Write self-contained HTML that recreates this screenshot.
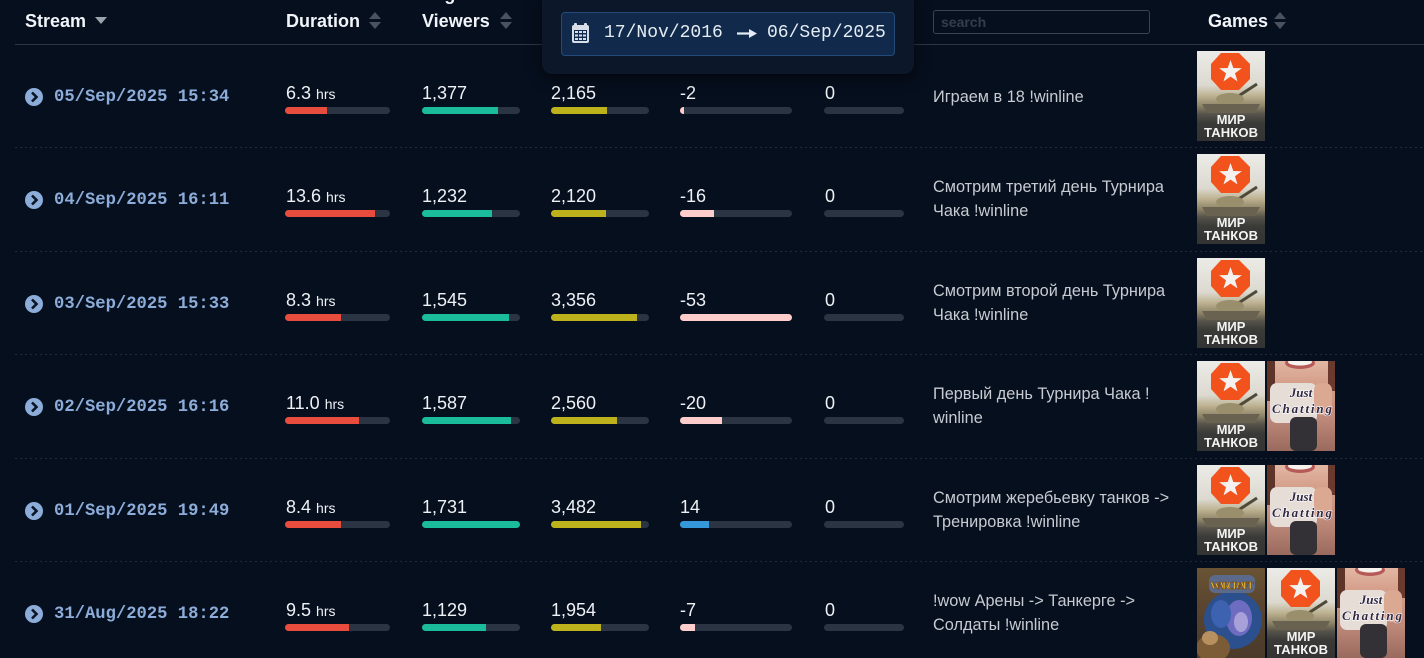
<!DOCTYPE html>
<html><head><meta charset="utf-8">
<style>
*{margin:0;padding:0;box-sizing:border-box}
html,body{width:1424px;height:658px;overflow:hidden;background:#060f1e}
body{position:relative;font-family:"Liberation Sans","DejaVu Sans",sans-serif}
.h{position:absolute;top:11px;font-weight:bold;font-size:18px;line-height:20px;color:#f1f4f8;white-space:nowrap}
.hl{position:absolute;left:15px;top:44px;width:1409px;height:1px;background:#2c3644}
.sep{position:absolute;left:15px;width:1409px;height:1px;background-image:repeating-linear-gradient(to right,#1f2b3a 0 2px,transparent 2px 5px)}
.row{position:absolute;left:0;width:1424px;height:103px}
.ic{position:absolute;left:25px;top:44px}
.dt{position:absolute;left:54px;top:44px;font-family:"Liberation Mono",monospace;font-weight:bold;font-size:17.2px;line-height:20px;color:#8cacd9;white-space:nowrap}
.n{position:absolute;top:39px;font-size:18px;line-height:20px;color:#eef1f5;white-space:nowrap}
.n small{font-size:14px}
.tr{position:absolute;top:63px;height:7px;border-radius:4px;background:#2b3442;overflow:hidden}
.tr i{display:block;height:100%}
.t{position:absolute;left:933px;font-size:16.3px;color:#c7cbd1;white-space:nowrap}
.t1{top:43px;line-height:20px}
.t2{top:28px;line-height:24px}
.gm{position:absolute;left:1197px;top:7px;display:flex;gap:2px}
.g{width:68px;height:90px;position:relative;overflow:hidden}
.g svg{position:absolute;left:0;top:0}
.tank{background:linear-gradient(to bottom,#ecebe7 0%,#dcd9d0 38%,#bcb190 50%,#8e8467 61%,#55534a 70%,#3a3a38 80%,#333333 100%)}
.chat{background:linear-gradient(to bottom,#e3b7a4 0%,#d49e8a 25%,#c18c7c 60%,#9a6a5e 100%)}
.wow{background:linear-gradient(to bottom,#6a5434 0%,#5a4530 40%,#4a3a2a 100%)}
.popup{position:absolute;left:542px;top:-10px;width:372px;height:84px;background:#0c1729;border-radius:10px;box-shadow:0 4px 14px rgba(0,0,0,.55)}
.range{position:absolute;left:561px;top:12px;width:334px;height:44px;background:#112a4b;border:1px solid #234a78;border-radius:4px}
.rt{position:absolute;top:23px;font-family:"Liberation Mono",monospace;font-size:18px;line-height:20px;color:#e6ecf4;white-space:nowrap}
.search{position:absolute;left:933px;top:10px;width:217px;height:24px;border:1px solid #394351;border-radius:3px}
.search span{position:absolute;left:7px;top:3px;font-weight:bold;font-size:14px;line-height:16px;color:#343d4a}
</style></head><body>

<!-- header -->
<div class="h" style="left:25px">Stream</div>
<svg style="position:absolute;left:95px;top:17px" width="12" height="8"><polygon points="0,0 12,0 6,7" fill="#9aa2ad"/></svg>
<div class="h" style="left:286px">Duration</div>
<svg style="position:absolute;left:369px;top:12px" width="12" height="17"><polygon points="6,0 12,7 0,7" fill="#4a5260"/><polygon points="0,10 12,10 6,17" fill="#4a5260"/></svg>
<div class="h" style="left:422px;top:-16px">Avg</div>
<div class="h" style="left:422px">Viewers</div>
<svg style="position:absolute;left:500px;top:12px" width="12" height="17"><polygon points="6,0 12,7 0,7" fill="#4a5260"/><polygon points="0,10 12,10 6,17" fill="#4a5260"/></svg>
<div class="search"><span>search</span></div>
<div class="h" style="left:1208px">Games</div>
<svg style="position:absolute;left:1274px;top:12px" width="12" height="17"><polygon points="6,0 12,7 0,7" fill="#4a5260"/><polygon points="0,10 12,10 6,17" fill="#4a5260"/></svg>
<div class="hl"></div>

<!-- row 1 -->
<div class="row" style="top:44px">
<svg class="ic" width="18" height="18"><circle cx="9" cy="9" r="9" fill="#8cacd9"/><polyline points="7,4.5 11.5,9 7,13.5" fill="none" stroke="#0a1424" stroke-width="2.6"/></svg>
<div class="dt">05/Sep/2025 15:34</div>
<div class="n" style="left:286px">6.3 <small>hrs</small></div>
<div class="tr" style="left:285px;width:105px"><i style="width:42px;background:#e74c3c"></i></div>
<div class="n" style="left:422px">1,377</div>
<div class="tr" style="left:422px;width:98px"><i style="width:76px;background:#1abc9c"></i></div>
<div class="n" style="left:551px">2,165</div>
<div class="tr" style="left:551px;width:98px"><i style="width:56px;background:#bdb21c"></i></div>
<div class="n" style="left:680px">-2</div>
<div class="tr" style="left:680px;width:112px"><i style="width:4px;background:#ffcccc"></i></div>
<div class="n" style="left:825px">0</div>
<div class="tr" style="left:824px;width:80px"></div>
<div class="t t1">Играем в 18 !winline</div>
<div class="gm">
<div class="g tank"><svg width="68" height="90"><polygon points="24,2 42,2 53,13 53,28 42,39 24,39 14,28 14,13" fill="#f2521c"/><polygon points="33.5,9 36.3,17 44.8,17.2 38,22.3 40.5,30.4 33.5,25.6 26.5,30.4 29,22.3 22.2,17.2 30.7,17" fill="#f4f1ee"/><line x1="40" y1="46" x2="60" y2="33" stroke="#4e4a3a" stroke-width="3"/><ellipse cx="33" cy="48" rx="14" ry="6" fill="#9a8f6c"/><polygon points="5,53 63,53 58,62 10,62" fill="#6a6250"/><text x="34" y="73" text-anchor="middle" font-family="Liberation Sans,DejaVu Sans,sans-serif" font-weight="bold" font-size="13" fill="#f4f4f4">МИР</text><text x="34" y="86" text-anchor="middle" font-family="Liberation Sans,DejaVu Sans,sans-serif" font-weight="bold" font-size="13" textLength="54" fill="#f4f4f4">ТАНКОВ</text></svg></div>
</div>
</div>

<div class="sep" style="top:147px"></div>
<!-- row 2 -->
<div class="row" style="top:147.4px">
<svg class="ic" width="18" height="18"><circle cx="9" cy="9" r="9" fill="#8cacd9"/><polyline points="7,4.5 11.5,9 7,13.5" fill="none" stroke="#0a1424" stroke-width="2.6"/></svg>
<div class="dt">04/Sep/2025 16:11</div>
<div class="n" style="left:286px">13.6 <small>hrs</small></div>
<div class="tr" style="left:285px;width:105px"><i style="width:90px;background:#e74c3c"></i></div>
<div class="n" style="left:422px">1,232</div>
<div class="tr" style="left:422px;width:98px"><i style="width:70px;background:#1abc9c"></i></div>
<div class="n" style="left:551px">2,120</div>
<div class="tr" style="left:551px;width:98px"><i style="width:55px;background:#bdb21c"></i></div>
<div class="n" style="left:680px">-16</div>
<div class="tr" style="left:680px;width:112px"><i style="width:34px;background:#ffcccc"></i></div>
<div class="n" style="left:825px">0</div>
<div class="tr" style="left:824px;width:80px"></div>
<div class="t t2">Смотрим третий день Турнира<br>Чака !winline</div>
<div class="gm">
<div class="g tank"><svg width="68" height="90"><polygon points="24,2 42,2 53,13 53,28 42,39 24,39 14,28 14,13" fill="#f2521c"/><polygon points="33.5,9 36.3,17 44.8,17.2 38,22.3 40.5,30.4 33.5,25.6 26.5,30.4 29,22.3 22.2,17.2 30.7,17" fill="#f4f1ee"/><line x1="40" y1="46" x2="60" y2="33" stroke="#4e4a3a" stroke-width="3"/><ellipse cx="33" cy="48" rx="14" ry="6" fill="#9a8f6c"/><polygon points="5,53 63,53 58,62 10,62" fill="#6a6250"/><text x="34" y="73" text-anchor="middle" font-family="Liberation Sans,DejaVu Sans,sans-serif" font-weight="bold" font-size="13" fill="#f4f4f4">МИР</text><text x="34" y="86" text-anchor="middle" font-family="Liberation Sans,DejaVu Sans,sans-serif" font-weight="bold" font-size="13" textLength="54" fill="#f4f4f4">ТАНКОВ</text></svg></div>
</div>
</div>

<div class="sep" style="top:251px"></div>
<!-- row 3 -->
<div class="row" style="top:250.8px">
<svg class="ic" width="18" height="18"><circle cx="9" cy="9" r="9" fill="#8cacd9"/><polyline points="7,4.5 11.5,9 7,13.5" fill="none" stroke="#0a1424" stroke-width="2.6"/></svg>
<div class="dt">03/Sep/2025 15:33</div>
<div class="n" style="left:286px">8.3 <small>hrs</small></div>
<div class="tr" style="left:285px;width:105px"><i style="width:56px;background:#e74c3c"></i></div>
<div class="n" style="left:422px">1,545</div>
<div class="tr" style="left:422px;width:98px"><i style="width:87px;background:#1abc9c"></i></div>
<div class="n" style="left:551px">3,356</div>
<div class="tr" style="left:551px;width:98px"><i style="width:86px;background:#bdb21c"></i></div>
<div class="n" style="left:680px">-53</div>
<div class="tr" style="left:680px;width:112px"><i style="width:112px;background:#ffcccc"></i></div>
<div class="n" style="left:825px">0</div>
<div class="tr" style="left:824px;width:80px"></div>
<div class="t t2">Смотрим второй день Турнира<br>Чака !winline</div>
<div class="gm">
<div class="g tank"><svg width="68" height="90"><polygon points="24,2 42,2 53,13 53,28 42,39 24,39 14,28 14,13" fill="#f2521c"/><polygon points="33.5,9 36.3,17 44.8,17.2 38,22.3 40.5,30.4 33.5,25.6 26.5,30.4 29,22.3 22.2,17.2 30.7,17" fill="#f4f1ee"/><line x1="40" y1="46" x2="60" y2="33" stroke="#4e4a3a" stroke-width="3"/><ellipse cx="33" cy="48" rx="14" ry="6" fill="#9a8f6c"/><polygon points="5,53 63,53 58,62 10,62" fill="#6a6250"/><text x="34" y="73" text-anchor="middle" font-family="Liberation Sans,DejaVu Sans,sans-serif" font-weight="bold" font-size="13" fill="#f4f4f4">МИР</text><text x="34" y="86" text-anchor="middle" font-family="Liberation Sans,DejaVu Sans,sans-serif" font-weight="bold" font-size="13" textLength="54" fill="#f4f4f4">ТАНКОВ</text></svg></div>
</div>
</div>

<div class="sep" style="top:354px"></div>
<!-- row 4 -->
<div class="row" style="top:354.2px">
<svg class="ic" width="18" height="18"><circle cx="9" cy="9" r="9" fill="#8cacd9"/><polyline points="7,4.5 11.5,9 7,13.5" fill="none" stroke="#0a1424" stroke-width="2.6"/></svg>
<div class="dt">02/Sep/2025 16:16</div>
<div class="n" style="left:286px">11.0 <small>hrs</small></div>
<div class="tr" style="left:285px;width:105px"><i style="width:74px;background:#e74c3c"></i></div>
<div class="n" style="left:422px">1,587</div>
<div class="tr" style="left:422px;width:98px"><i style="width:89px;background:#1abc9c"></i></div>
<div class="n" style="left:551px">2,560</div>
<div class="tr" style="left:551px;width:98px"><i style="width:66px;background:#bdb21c"></i></div>
<div class="n" style="left:680px">-20</div>
<div class="tr" style="left:680px;width:112px"><i style="width:42px;background:#ffcccc"></i></div>
<div class="n" style="left:825px">0</div>
<div class="tr" style="left:824px;width:80px"></div>
<div class="t t2">Первый день Турнира Чака !<br>winline</div>
<div class="gm">
<div class="g tank"><svg width="68" height="90"><polygon points="24,2 42,2 53,13 53,28 42,39 24,39 14,28 14,13" fill="#f2521c"/><polygon points="33.5,9 36.3,17 44.8,17.2 38,22.3 40.5,30.4 33.5,25.6 26.5,30.4 29,22.3 22.2,17.2 30.7,17" fill="#f4f1ee"/><line x1="40" y1="46" x2="60" y2="33" stroke="#4e4a3a" stroke-width="3"/><ellipse cx="33" cy="48" rx="14" ry="6" fill="#9a8f6c"/><polygon points="5,53 63,53 58,62 10,62" fill="#6a6250"/><text x="34" y="73" text-anchor="middle" font-family="Liberation Sans,DejaVu Sans,sans-serif" font-weight="bold" font-size="13" fill="#f4f4f4">МИР</text><text x="34" y="86" text-anchor="middle" font-family="Liberation Sans,DejaVu Sans,sans-serif" font-weight="bold" font-size="13" textLength="54" fill="#f4f4f4">ТАНКОВ</text></svg></div>
<div class="g chat"><svg width="68" height="90"><rect x="0" y="0" width="8" height="40" fill="#5e3328"/><rect x="61" y="0" width="7" height="30" fill="#6a3a2e"/><ellipse cx="33" cy="2" rx="15" ry="6" fill="#b65a58"/><ellipse cx="33" cy="1" rx="12" ry="3.5" fill="#f6f2ee"/><rect x="3" y="22" width="47" height="40" rx="7" fill="#e6ddd6"/><rect x="47" y="22" width="18" height="32" rx="7" fill="#dba892"/><text x="34" y="36" text-anchor="middle" font-family="Liberation Serif,serif" font-style="italic" font-weight="bold" font-size="13" fill="#2f2642" stroke="#ffffff" stroke-width="1.2" paint-order="stroke">Just</text><text x="35" y="52" text-anchor="middle" font-family="Liberation Serif,serif" font-style="italic" font-weight="bold" font-size="13" textLength="60" fill="#2f2642" stroke="#ffffff" stroke-width="1.2" paint-order="stroke">Chatting</text><rect x="23" y="56" width="27" height="34" rx="6" fill="#333136"/></svg></div>
</div>
</div>

<div class="sep" style="top:458px"></div>
<!-- row 5 -->
<div class="row" style="top:457.6px">
<svg class="ic" width="18" height="18"><circle cx="9" cy="9" r="9" fill="#8cacd9"/><polyline points="7,4.5 11.5,9 7,13.5" fill="none" stroke="#0a1424" stroke-width="2.6"/></svg>
<div class="dt">01/Sep/2025 19:49</div>
<div class="n" style="left:286px">8.4 <small>hrs</small></div>
<div class="tr" style="left:285px;width:105px"><i style="width:56px;background:#e74c3c"></i></div>
<div class="n" style="left:422px">1,731</div>
<div class="tr" style="left:422px;width:98px"><i style="width:98px;background:#1abc9c"></i></div>
<div class="n" style="left:551px">3,482</div>
<div class="tr" style="left:551px;width:98px"><i style="width:90px;background:#bdb21c"></i></div>
<div class="n" style="left:680px">14</div>
<div class="tr" style="left:680px;width:112px"><i style="width:29px;background:#3498db"></i></div>
<div class="n" style="left:825px">0</div>
<div class="tr" style="left:824px;width:80px"></div>
<div class="t t2">Смотрим жеребьевку танков -&gt;<br>Тренировка !winline</div>
<div class="gm">
<div class="g tank"><svg width="68" height="90"><polygon points="24,2 42,2 53,13 53,28 42,39 24,39 14,28 14,13" fill="#f2521c"/><polygon points="33.5,9 36.3,17 44.8,17.2 38,22.3 40.5,30.4 33.5,25.6 26.5,30.4 29,22.3 22.2,17.2 30.7,17" fill="#f4f1ee"/><line x1="40" y1="46" x2="60" y2="33" stroke="#4e4a3a" stroke-width="3"/><ellipse cx="33" cy="48" rx="14" ry="6" fill="#9a8f6c"/><polygon points="5,53 63,53 58,62 10,62" fill="#6a6250"/><text x="34" y="73" text-anchor="middle" font-family="Liberation Sans,DejaVu Sans,sans-serif" font-weight="bold" font-size="13" fill="#f4f4f4">МИР</text><text x="34" y="86" text-anchor="middle" font-family="Liberation Sans,DejaVu Sans,sans-serif" font-weight="bold" font-size="13" textLength="54" fill="#f4f4f4">ТАНКОВ</text></svg></div>
<div class="g chat"><svg width="68" height="90"><rect x="0" y="0" width="8" height="40" fill="#5e3328"/><rect x="61" y="0" width="7" height="30" fill="#6a3a2e"/><ellipse cx="33" cy="2" rx="15" ry="6" fill="#b65a58"/><ellipse cx="33" cy="1" rx="12" ry="3.5" fill="#f6f2ee"/><rect x="3" y="22" width="47" height="40" rx="7" fill="#e6ddd6"/><rect x="47" y="22" width="18" height="32" rx="7" fill="#dba892"/><text x="34" y="36" text-anchor="middle" font-family="Liberation Serif,serif" font-style="italic" font-weight="bold" font-size="13" fill="#2f2642" stroke="#ffffff" stroke-width="1.2" paint-order="stroke">Just</text><text x="35" y="52" text-anchor="middle" font-family="Liberation Serif,serif" font-style="italic" font-weight="bold" font-size="13" textLength="60" fill="#2f2642" stroke="#ffffff" stroke-width="1.2" paint-order="stroke">Chatting</text><rect x="23" y="56" width="27" height="34" rx="6" fill="#333136"/></svg></div>
</div>
</div>

<div class="sep" style="top:561px"></div>
<!-- row 6 -->
<div class="row" style="top:561px">
<svg class="ic" width="18" height="18"><circle cx="9" cy="9" r="9" fill="#8cacd9"/><polyline points="7,4.5 11.5,9 7,13.5" fill="none" stroke="#0a1424" stroke-width="2.6"/></svg>
<div class="dt">31/Aug/2025 18:22</div>
<div class="n" style="left:286px">9.5 <small>hrs</small></div>
<div class="tr" style="left:285px;width:105px"><i style="width:64px;background:#e74c3c"></i></div>
<div class="n" style="left:422px">1,129</div>
<div class="tr" style="left:422px;width:98px"><i style="width:64px;background:#1abc9c"></i></div>
<div class="n" style="left:551px">1,954</div>
<div class="tr" style="left:551px;width:98px"><i style="width:50px;background:#bdb21c"></i></div>
<div class="n" style="left:680px">-7</div>
<div class="tr" style="left:680px;width:112px"><i style="width:15px;background:#ffcccc"></i></div>
<div class="n" style="left:825px">0</div>
<div class="tr" style="left:824px;width:80px"></div>
<div class="t t2">!wow Арены -&gt; Танкерге -&gt;<br>Солдаты !winline</div>
<div class="gm">
<div class="g wow"><svg width="68" height="90"><circle cx="36" cy="52" r="29" fill="#2c4f8e"/><ellipse cx="42" cy="50" rx="13" ry="18" fill="#6e6cc0"/><ellipse cx="44" cy="54" rx="7" ry="10" fill="#a8a0d8"/><ellipse cx="24" cy="46" rx="10" ry="14" fill="#3d62b0"/><rect x="12" y="7" width="46" height="18" rx="6" fill="#5b6a8a"/><text x="35" y="21" text-anchor="middle" font-family="Liberation Serif,serif" font-weight="bold" font-size="11" textLength="44" fill="#e8bf3c" stroke="#7a4a18" stroke-width="0.6">WARCRAFT</text><ellipse cx="16" cy="80" rx="17" ry="14" fill="#7c5c36"/><ellipse cx="13" cy="70" rx="8" ry="7" fill="#b89060"/></svg></div>
<div class="g tank"><svg width="68" height="90"><polygon points="24,2 42,2 53,13 53,28 42,39 24,39 14,28 14,13" fill="#f2521c"/><polygon points="33.5,9 36.3,17 44.8,17.2 38,22.3 40.5,30.4 33.5,25.6 26.5,30.4 29,22.3 22.2,17.2 30.7,17" fill="#f4f1ee"/><line x1="40" y1="46" x2="60" y2="33" stroke="#4e4a3a" stroke-width="3"/><ellipse cx="33" cy="48" rx="14" ry="6" fill="#9a8f6c"/><polygon points="5,53 63,53 58,62 10,62" fill="#6a6250"/><text x="34" y="73" text-anchor="middle" font-family="Liberation Sans,DejaVu Sans,sans-serif" font-weight="bold" font-size="13" fill="#f4f4f4">МИР</text><text x="34" y="86" text-anchor="middle" font-family="Liberation Sans,DejaVu Sans,sans-serif" font-weight="bold" font-size="13" textLength="54" fill="#f4f4f4">ТАНКОВ</text></svg></div>
<div class="g chat"><svg width="68" height="90"><rect x="0" y="0" width="8" height="40" fill="#5e3328"/><rect x="61" y="0" width="7" height="30" fill="#6a3a2e"/><ellipse cx="33" cy="2" rx="15" ry="6" fill="#b65a58"/><ellipse cx="33" cy="1" rx="12" ry="3.5" fill="#f6f2ee"/><rect x="3" y="22" width="47" height="40" rx="7" fill="#e6ddd6"/><rect x="47" y="22" width="18" height="32" rx="7" fill="#dba892"/><text x="34" y="36" text-anchor="middle" font-family="Liberation Serif,serif" font-style="italic" font-weight="bold" font-size="13" fill="#2f2642" stroke="#ffffff" stroke-width="1.2" paint-order="stroke">Just</text><text x="35" y="52" text-anchor="middle" font-family="Liberation Serif,serif" font-style="italic" font-weight="bold" font-size="13" textLength="60" fill="#2f2642" stroke="#ffffff" stroke-width="1.2" paint-order="stroke">Chatting</text><rect x="23" y="56" width="27" height="34" rx="6" fill="#333136"/></svg></div>
</div>
</div>

<!-- date range popup -->
<div class="popup"></div>
<div class="range"></div>
<svg style="position:absolute;left:572px;top:23px" width="17" height="20"><rect x="2" y="0" width="3" height="4" rx="1" fill="#d8dee8"/><rect x="12" y="0" width="3" height="4" rx="1" fill="#d8dee8"/><rect x="0" y="2" width="17" height="18" rx="2" fill="#d8dee8"/><rect x="2" y="7" width="13" height="11" fill="#132c4d"/><rect x="3" y="8" width="3" height="2" fill="#d8dee8"/><rect x="7" y="8" width="3" height="2" fill="#d8dee8"/><rect x="11" y="8" width="3" height="2" fill="#d8dee8"/><rect x="3" y="11.5" width="3" height="2" fill="#d8dee8"/><rect x="7" y="11.5" width="3" height="2" fill="#d8dee8"/><rect x="11" y="11.5" width="3" height="2" fill="#d8dee8"/><rect x="3" y="15" width="3" height="2" fill="#d8dee8"/><rect x="7" y="15" width="3" height="2" fill="#d8dee8"/><rect x="11" y="15" width="3" height="2" fill="#d8dee8"/></svg>
<div class="rt" style="left:604px">17/Nov/2016</div>
<svg style="position:absolute;left:737px;top:29px" width="20" height="9"><line x1="0" y1="4.5" x2="14" y2="4.5" stroke="#e6ecf4" stroke-width="2.2"/><polygon points="12,0 20,4.5 12,9" fill="#e6ecf4"/></svg>
<div class="rt" style="left:767px">06/Sep/2025</div>

</body></html>
